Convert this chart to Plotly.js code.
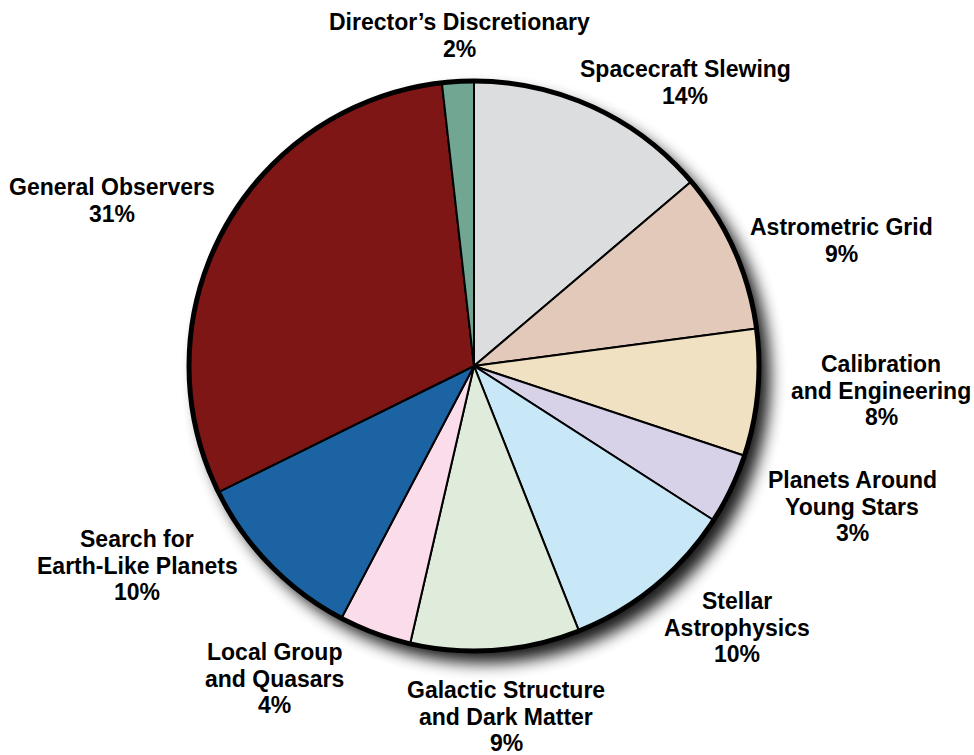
<!DOCTYPE html>
<html>
<head>
<meta charset="utf-8">
<script src="https://cdn.plot.ly/plotly-3.0.1.min.js"></script>
<style>
html,body{margin:0;padding:0;background:#fff;}
#chart{width:974px;height:755px;}
</style>
</head>
<body>
<div id="chart"></div>
<script>
// Categories in clockwise order from 12 o'clock
const categories = [
  "Spacecraft Slewing",
  "Astrometric Grid",
  "Calibration and Engineering",
  "Planets Around Young Stars",
  "Stellar Astrophysics",
  "Galactic Structure and Dark Matter",
  "Local Group and Quasars",
  "Search for Earth-Like Planets",
  "General Observers",
  "Director’s Discretionary"
];
// Slice sizes (percent of time)
const shares = [13.8, 9.1, 7.2, 4.0, 9.9, 9.6, 4.1, 10.0, 30.5, 1.8];
// Percent labels as printed
const pctLabels = ["14%", "9%", "8%", "3%", "10%", "9%", "4%", "10%", "31%", "2%"];
// Label text lines as printed
const labelLines = [
  ["Spacecraft Slewing"],
  ["Astrometric Grid"],
  ["Calibration", "and Engineering"],
  ["Planets Around", "Young Stars"],
  ["Stellar", "Astrophysics"],
  ["Galactic Structure", "and Dark Matter"],
  ["Local Group", "and Quasars"],
  ["Search for", "Earth-Like Planets"],
  ["General Observers"],
  ["Director’s Discretionary"]
];
const sliceColors = ["#dcdddf", "#e2c9ba", "#f1e1c3", "#d7d2e8", "#c8e8f8",
                     "#dfebdb", "#fbdcea", "#1b63a3", "#7f1518", "#6fa692"];

// Label placement (pixel centre x, first baseline y) — layout only
const labelPos = [
  [685, 77], [841, 235], [881, 372], [852, 488], [737, 609],
  [506, 698], [274, 660], [137, 547], [112, 195], [459, 30]
];

const W = 974, H = 755;
const cx = 474, cy = 366, R = 285;
const dom = {
  x: [(cx - R) / W, (cx + R) / W],
  y: [(H - cy - R) / H, (H - cy + R) / H]
};

const traces = [
  {
    type: "pie",
    labels: categories,
    values: shares,
    sort: false,
    direction: "clockwise",
    rotation: 0,
    textinfo: "none",
    hoverinfo: "label+value",
    marker: { colors: sliceColors, line: { color: "#000", width: 2 } },
    domain: dom,
    showlegend: false
  },
  {
    type: "pie",
    labels: ["outline"],
    values: [1],
    sort: false,
    textinfo: "none",
    hoverinfo: "skip",
    marker: { colors: ["rgba(0,0,0,0)"], line: { color: "#000", width: 5 } },
    domain: dom,
    showlegend: false
  }
];

const LINE = 26.8;
const FS = 23;
const annotations = [];
categories.forEach((c, i) => {
  const lines = labelLines[i].concat([pctLabels[i]]);
  lines.forEach((t, j) => {
    const base = labelPos[i][1] + j * LINE;
    annotations.push({
      text: t,
      xref: "paper", yref: "paper",
      x: labelPos[i][0] / W,
      y: 1 - (base - 0.36 * FS) / H,
      xanchor: "center", yanchor: "middle",
      showarrow: false,
      font: { family: "Liberation Sans, Arial, Helvetica, sans-serif", size: FS, color: "#000", weight: "bold" }
    });
  });
});

const layout = {
  width: W, height: H,
  margin: { l: 0, r: 0, t: 0, b: 0 },
  paper_bgcolor: "#fff",
  showlegend: false,
  annotations: annotations
};

Plotly.newPlot("chart", traces, layout, { displayModeBar: false, staticPlot: true }).then(gd => {
  const svg = gd.querySelector(".main-svg");
  const NS = "http://www.w3.org/2000/svg";
  let defs = svg.querySelector("defs");
  if (!defs) { defs = document.createElementNS(NS, "defs"); svg.insertBefore(defs, svg.firstChild); }
  const f = document.createElementNS(NS, "filter");
  f.setAttribute("id", "pieShadow");
  f.setAttribute("x", "-20%"); f.setAttribute("y", "-20%");
  f.setAttribute("width", "140%"); f.setAttribute("height", "140%");
  f.innerHTML =
    '<feGaussianBlur in="SourceAlpha" stdDeviation="8" result="b"/>' +
    '<feOffset in="b" dx="10" dy="11" result="o"/>' +
    '<feComponentTransfer in="o" result="s"><feFuncA type="linear" slope="0.9"/></feComponentTransfer>' +
    '<feMerge><feMergeNode in="s"/><feMergeNode in="SourceGraphic"/></feMerge>';
  defs.appendChild(f);
  const tr = gd.querySelectorAll(".pielayer .trace");
  if (tr.length) tr[0].setAttribute("filter", "url(#pieShadow)");
});
</script>
</body>
</html>
